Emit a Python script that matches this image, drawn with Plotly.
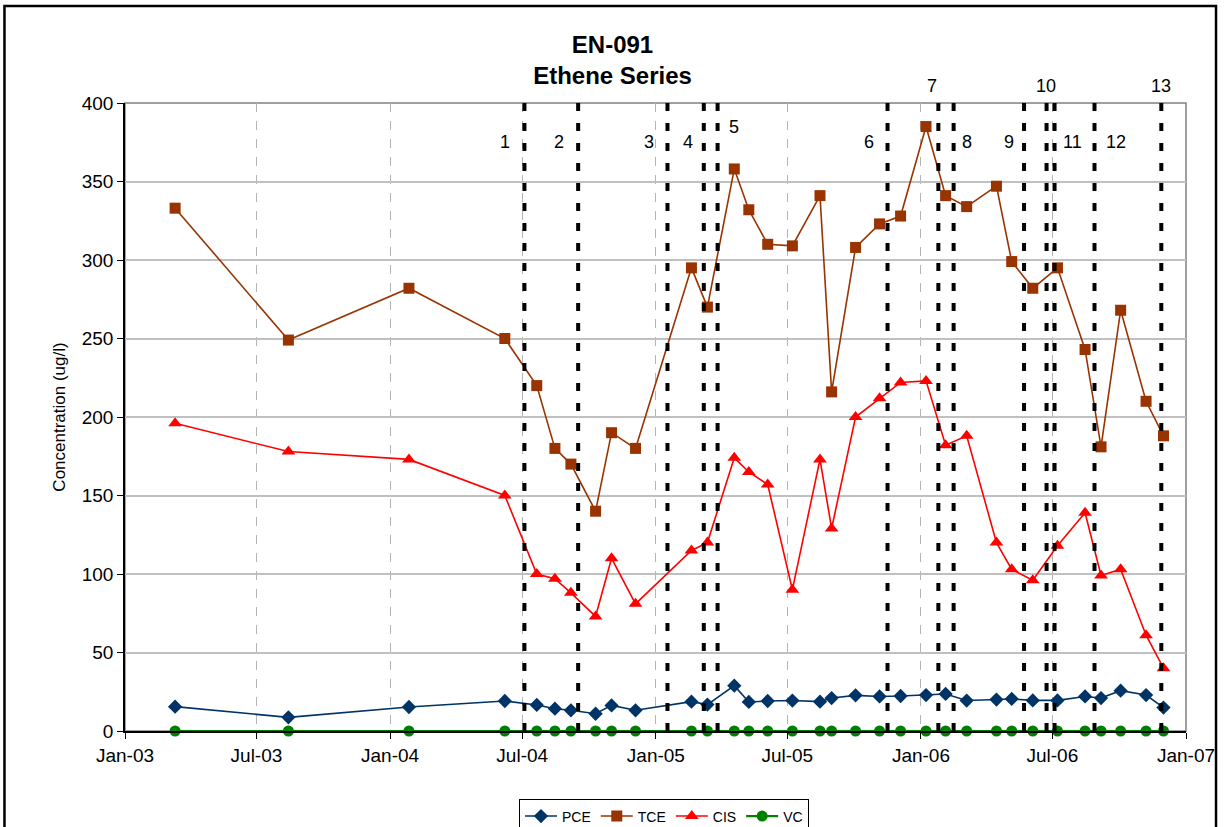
import plotly.graph_objects as go

# ---------------- data ----------------
dates = [
    "2003-03-11", "2003-08-14", "2004-01-27", "2004-06-07", "2004-07-21",
    "2004-08-15", "2004-09-06", "2004-10-10", "2004-11-01", "2004-12-04",
    "2005-02-19", "2005-03-13", "2005-04-19", "2005-05-09", "2005-06-04",
    "2005-07-08", "2005-08-15", "2005-08-31", "2005-10-03", "2005-11-05",
    "2005-12-04", "2006-01-08", "2006-02-04", "2006-03-05", "2006-04-15",
    "2006-05-06", "2006-06-04", "2006-07-08", "2006-08-15", "2006-09-06",
    "2006-10-03", "2006-11-07", "2006-12-01",
]
pce = [15.5, 8.7, 15.3, 19.1, 16.6, 14.2, 13.2, 11.0, 16.3, 13.2,
       18.7, 16.8, 28.9, 18.5, 19.1, 19.4, 18.7, 21.0, 22.7, 22.0,
       22.3, 22.9, 23.6, 19.4, 20.0, 20.4, 19.5, 19.5, 22.0, 21.0,
       25.7, 22.9, 14.9]
tce = [333, 249, 282, 250, 220, 180, 170, 140, 190, 180,
       295, 270, 358, 332, 310, 309, 341, 216, 308, 323,
       328, 385, 341, 334, 347, 299, 282, 295, 243, 181,
       268, 210, 188]
cis = [196, 178, 173, 150, 100, 97, 88, 73, 110, 81,
       115, 120, 174, 165, 157, 90, 173, 129, 200, 212,
       222, 223, 182, 188, 120, 103, 96, 118, 139, 99,
       103, 61, 40]
vc = [0] * len(dates)

event_dates = ["2004-07-04", "2004-09-16", "2005-01-17", "2005-03-08", "2005-03-27",
               "2005-11-16", "2006-01-25", "2006-02-15", "2006-05-23", "2006-06-23",
               "2006-07-04", "2006-08-28", "2006-11-28"]
event_labels = ["1", "2", "3", "4", "5", "6", "7", "8", "9", "10", "11", "12", "13"]
label_dates = ["2004-06-07", "2004-08-20", "2004-12-23", "2005-02-14", "2005-04-19",
               "2005-10-22", "2006-01-16", "2006-03-06", "2006-05-02", "2006-06-22",
               "2006-07-29", "2006-09-26", "2006-11-27"]
label_levels = [375, 375, 375, 375, 385, 375, 411, 375, 375, 411, 375, 375, 411]

Y_MAX = 400
FONT = "Liberation Sans, Arial, sans-serif"

fig = go.Figure()

series = [
    ("PCE", pce, "#003366", "diamond", 11, 1.6),
    ("TCE", tce, "#993300", "square", 11, 1.6),
    ("CIS", cis, "#FF0000", "triangle-up", 12, 1.6),
    ("VC", vc, "#008000", "circle", 11, 2.2),
]
for name, vals, col, sym, sz, lw in series:
    fig.add_trace(go.Scatter(
        x=dates, y=vals, name=name, mode="lines+markers",
        line=dict(color=col, width=lw),
        marker=dict(symbol=sym, size=sz, color=col, line=dict(color=col, width=0)),
        cliponaxis=False,
    ))

shapes = []
# plot-area frame (gray)
shapes.append(dict(type="rect", xref="paper", yref="paper", x0=0, x1=1, y0=0, y1=1,
                   line=dict(color="#808080", width=1.5), layer="below"))
# outer chart border
shapes.append(dict(type="rect", xref="paper", yref="paper",
                   x0=-0.1136, x1=1.0283, y0=-0.18, y1=1.1545,
                   line=dict(color="black", width=2.5), layer="below"))
for d in event_dates:
    shapes.append(dict(type="line", xref="x", yref="paper", x0=d, x1=d, y0=1, y1=0,
                       line=dict(color="black", width=4, dash="8px,12px"), layer="above"))

annotations = []
for t, d, lv in zip(event_labels, label_dates, label_levels):
    annotations.append(dict(x=d, y=lv / Y_MAX, xref="x", yref="paper", text=t,
                            showarrow=False,
                            font=dict(family=FONT, size=18, color="black"),
                            xanchor="center", yanchor="middle"))

fig.update_layout(
    width=1225, height=827,
    margin=dict(l=125, r=39, t=103, b=96, autoexpand=False),
    paper_bgcolor="white", plot_bgcolor="white",
    font=dict(family=FONT, color="black"),
    title=dict(text="<b>EN-091<br>Ethene Series</b>", x=0.5, xref="container",
               y=1 - 53 / 827, yref="container", yanchor="top",
               font=dict(family=FONT, size=24, color="black")),
    showlegend=True,
    legend=dict(orientation="h", x=0.508, xanchor="center", y=-0.109, yanchor="top",
                bordercolor="black", borderwidth=1, bgcolor="white",
                font=dict(family=FONT, size=14), itemwidth=32,
                tracegroupgap=0),
    shapes=shapes,
    annotations=annotations,
)
fig.update_xaxes(
    type="date", range=["2003-01-01", "2007-01-01"],
    tick0="2003-01-01", dtick="M6", tickformat="%b-%y",
    showgrid=True, gridcolor="#b4b4b4", griddash="dash", gridwidth=1,
    showline=True, linecolor="black", linewidth=1.5,
    ticks="outside", ticklen=6, tickcolor="black",
    tickfont=dict(family=FONT, size=19), zeroline=False,
)
fig.update_yaxes(
    range=[0, Y_MAX], dtick=50, tick0=0,
    showgrid=True, gridcolor="#c0c0c0", gridwidth=1.5,
    showline=True, linecolor="black", linewidth=1.5,
    ticks="outside", ticklen=6, tickcolor="black",
    tickfont=dict(family=FONT, size=19), zeroline=False,
    title=dict(text="Concentration (ug/l)", font=dict(family=FONT, size=17), standoff=12),
)

fig.write_html("out.html", config={"displayModeBar": False},
               post_script="document.body.style.margin='0';")
